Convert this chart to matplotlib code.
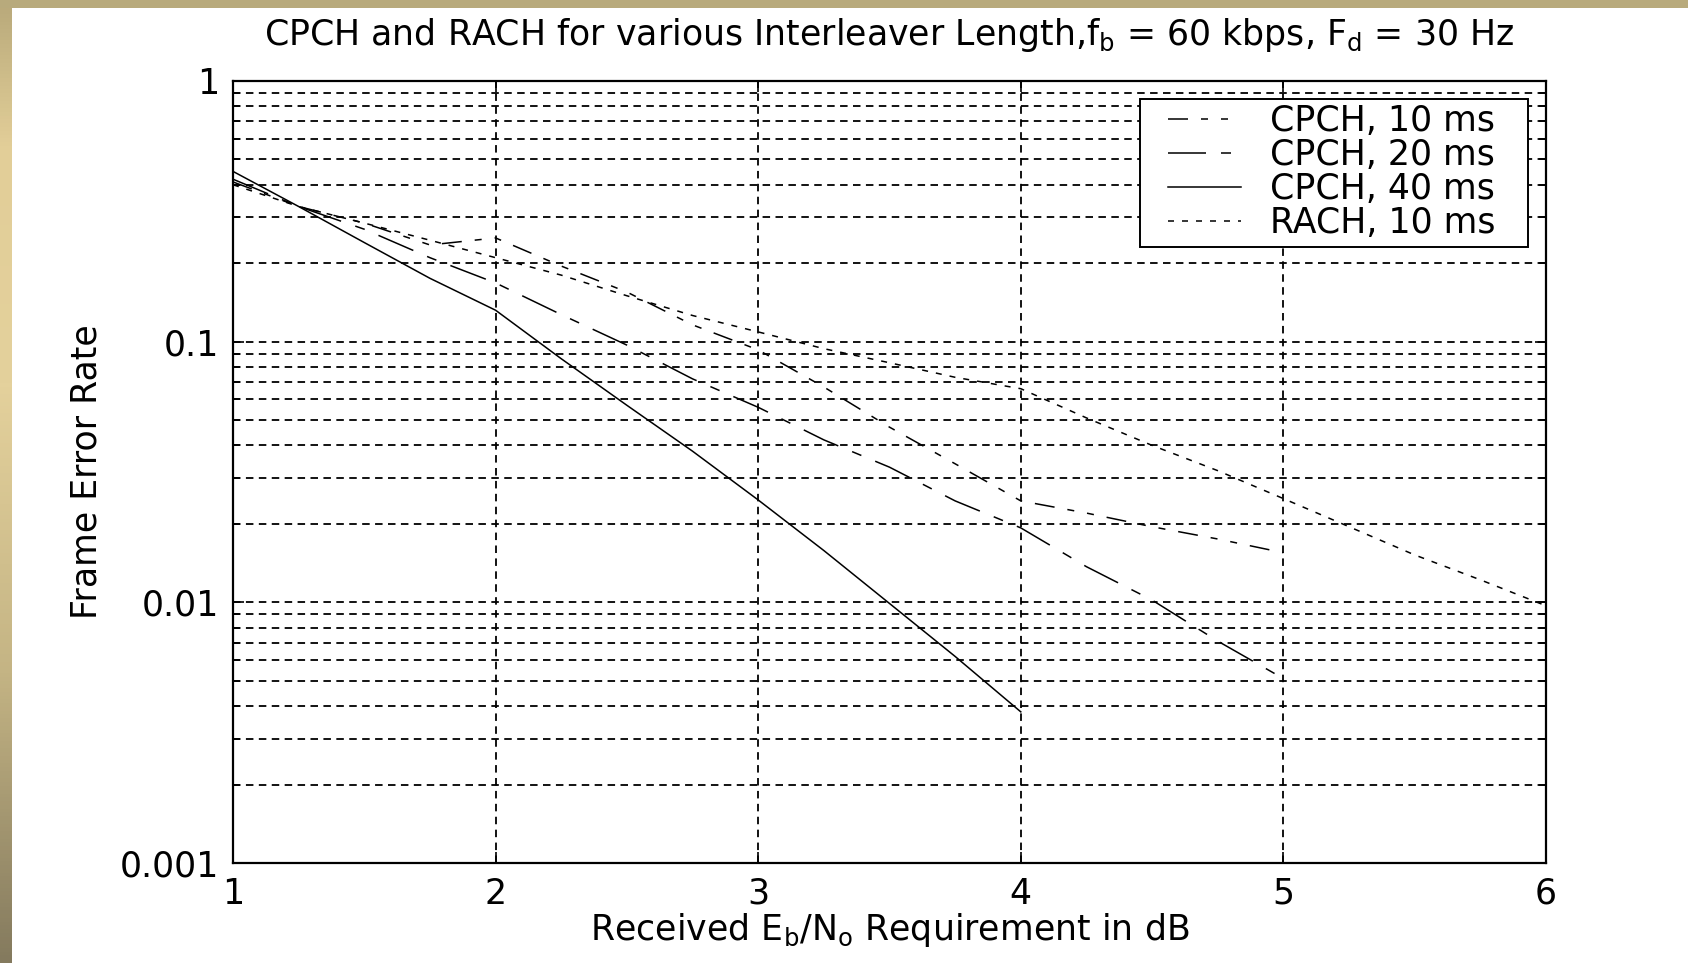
import numpy as np
import matplotlib
matplotlib.use("Agg")
import matplotlib.pyplot as plt
from matplotlib.colors import LinearSegmentedColormap
from matplotlib.patches import Rectangle
from matplotlib.ticker import FixedLocator, FuncFormatter, LogLocator, NullFormatter

plt.rcParams['font.family'] = ['DejaVu Sans']
plt.rcParams['mathtext.fontset'] = 'dejavusans'
plt.rcParams['lines.scale_dashes'] = False

# Eb/No in dB
x_10 = [1.0, 1.25, 1.5, 1.75, 2.0, 2.25, 2.5, 2.75, 3.0, 3.25, 3.5, 3.75, 4.0, 4.25, 4.5, 4.75, 5.0]
fer_cpch10 = [0.41, 0.33, 0.285, 0.235, 0.25, 0.195, 0.155, 0.116, 0.093, 0.067, 0.047, 0.034, 0.0245,
              0.022, 0.0195, 0.0175, 0.0155]
x_20 = [1.0, 1.25, 1.5, 1.75, 2.0, 2.25, 2.5, 2.75, 3.0, 3.25, 3.5, 3.75, 4.0, 4.25, 4.5, 4.75, 5.0]
fer_cpch20 = [0.42, 0.33, 0.27, 0.21, 0.168, 0.127, 0.097, 0.072, 0.056, 0.042, 0.033, 0.0245, 0.0193,
              0.0137, 0.0102, 0.0071, 0.0051]
x_40 = [1.0, 1.25, 1.5, 1.75, 2.0, 2.25, 2.5, 2.75, 3.0, 3.25, 3.5, 3.75, 4.0]
fer_cpch40 = [0.45, 0.33, 0.24, 0.175, 0.132, 0.086, 0.057, 0.038, 0.0247, 0.0158, 0.0099, 0.0062, 0.0038]
x_rach = [1.0, 1.25, 1.5, 1.75, 2.0, 2.25, 2.5, 2.75, 3.0, 3.25, 3.5, 3.75, 4.0, 4.25, 4.5, 4.75, 5.0,
          5.25, 5.5, 5.75, 6.0]
fer_rach = [0.40, 0.33, 0.285, 0.245, 0.21, 0.18, 0.15, 0.126, 0.109, 0.094, 0.083, 0.073, 0.066, 0.051,
            0.040, 0.032, 0.025, 0.0195, 0.0152, 0.0122, 0.0097]

labels = ['CPCH, 10 ms', 'CPCH, 20 ms', 'CPCH, 40 ms', 'RACH, 10 ms']
x_ticks = [1, 2, 3, 4, 5, 6]
y_ticks = [0.001, 0.01, 0.1, 1]
y_ticklabels = ['0.001', '0.01', '0.1', '1']

px = 0.72  # points per pixel at dpi 100
fs = 25
W, H = 1688, 963
fig = plt.figure(figsize=(W / 100, H / 100), dpi=100)
fig.patch.set_facecolor('white')

# gold slide border (left and top)
bg = fig.add_axes([0, 0, 12 / W, 1], zorder=-5)
gold = LinearSegmentedColormap.from_list('gold', [(0, '#847a5e'), (0.3, '#c4b484'), (0.6, '#e4d19c'),
                                                  (0.85, '#e2ce98'), (1.0, '#b8a97a')])
bg.imshow(np.linspace(1, 0, 256).reshape(-1, 1), aspect='auto', cmap=gold, extent=[0, 1, 0, 1],
          vmin=0, vmax=1, origin='upper')
bg.axis('off')
top = fig.add_axes([0, 1 - 8 / H, 1, 8 / H], zorder=-5)
top.set_facecolor('#b8aa7c')
top.set_xticks([])
top.set_yticks([])
for s in top.spines.values():
    s.set_visible(False)

ax = fig.add_axes([233 / W, 1 - 863 / H, (1546 - 233) / W, (863 - 81) / H])

lw = 1.1
ax.semilogy(x_10, fer_cpch10, color='black', lw=lw,
            dashes=(20 * px, 13 * px, 7 * px, 13 * px, 7 * px, 13 * px), label=labels[0])
ax.semilogy(x_20, fer_cpch20, color='black', lw=lw, dashes=(38 * px, 15 * px, 10 * px, 15 * px), label=labels[1])
ax.semilogy(x_40, fer_cpch40, color='black', lw=lw, linestyle='-', label=labels[2])
ax.semilogy(x_rach, fer_rach, color='black', lw=lw, dashes=(6 * px, 8 * px), label=labels[3])

ax.set_xlim(1, 6)
ax.set_ylim(0.001, 1)
ax.xaxis.set_major_locator(FixedLocator(x_ticks))
ax.yaxis.set_major_locator(FixedLocator(y_ticks))
ax.yaxis.set_major_formatter(FuncFormatter(lambda v, p: y_ticklabels[y_ticks.index(min(y_ticks, key=lambda t: abs(np.log10(t) - np.log10(v))))]))
ax.yaxis.set_minor_locator(LogLocator(base=10, subs=np.arange(2, 10)))
ax.yaxis.set_minor_formatter(NullFormatter())

grid_ls = (0, (5.4, 3.9))
ax.grid(True, which='major', axis='both', color='black', lw=1.3, linestyle=grid_ls)
ax.grid(True, which='minor', axis='y', color='black', lw=1.3, linestyle=grid_ls)

ax.tick_params(which='both', direction='in', top=True, right=True, labelsize=fs, pad=10, width=1.2)
ax.tick_params(which='major', length=8)
ax.tick_params(which='minor', length=5)
for s in ax.spines.values():
    s.set_linewidth(1.6)

ax.set_title(r'CPCH and RACH for various Interleaver Length,f$_{\mathrm{b}}$ = 60 kbps, F$_{\mathrm{d}}$ = 30 Hz',
             fontsize=fs, pad=26)
ax.set_xlabel(r'Received E$_{\mathrm{b}}$/N$_{\mathrm{o}}$ Requirement in dB', fontsize=fs, labelpad=0)
ax.set_ylabel('Frame Error Rate', fontsize=fs, labelpad=12)

# legend without its own frame; a MATLAB-like box with wider side margins is drawn round it
leg = ax.legend(loc='upper right', bbox_to_anchor=(1496 / W, 1 - 104 / H), bbox_transform=fig.transFigure,
                fontsize=fs, frameon=False, handlelength=2.1, handletextpad=0.85, borderpad=0.0,
                labelspacing=0.0, borderaxespad=0)
fig.canvas.draw()
bb = leg.get_window_extent()
box = Rectangle((bb.x0 - 28, bb.y0 - 7), bb.width + 28 + 32, bb.height + 12, transform=None,
                facecolor='white', edgecolor='black', lw=1.4, zorder=4)
ax.add_artist(box)
leg.set_zorder(5)

fig.savefig('out.png', dpi=100, facecolor='white')
